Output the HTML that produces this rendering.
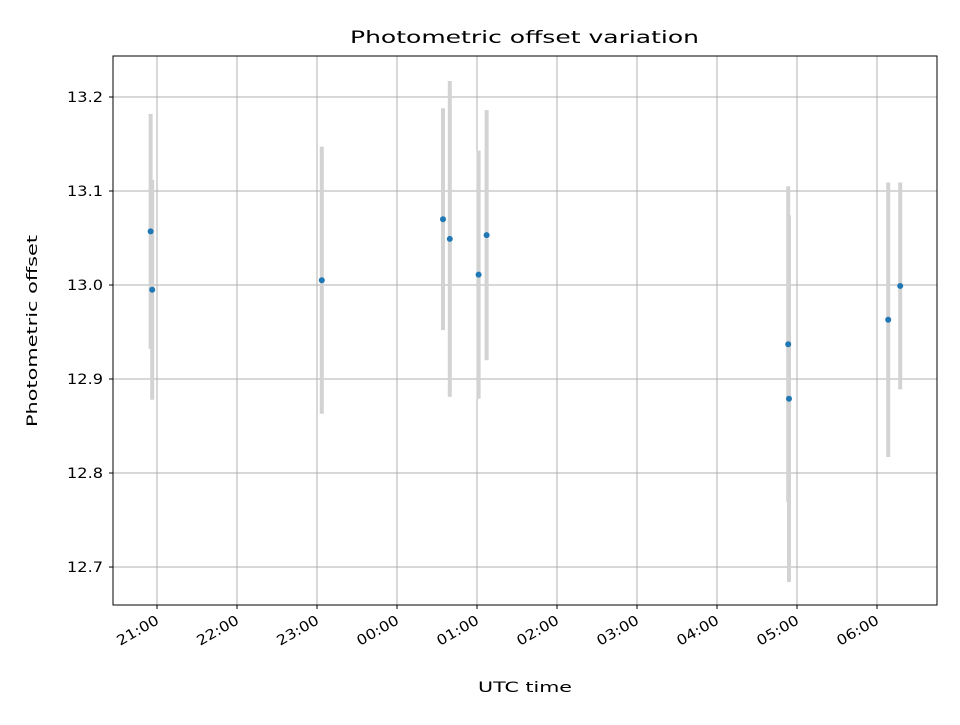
<!DOCTYPE html>
<html><head><meta charset="utf-8"><style>
body{margin:0;background:#fff;}
svg text{font-family:"DejaVu Sans","Liberation Sans",sans-serif;}
</style></head><body>
<svg id="chart" width="960" height="720" xmlns="http://www.w3.org/2000/svg">
<rect width="960" height="720" fill="#fff"/>
<text x="350" y="43" style="font-size:17px" textLength="349" lengthAdjust="spacingAndGlyphs">Photometric offset variation</text>
<g id="grid"></g>
<g id="bars"></g>
<g id="pts"></g>
<rect x="113" y="56" width="824" height="549" fill="none" stroke="#000" stroke-width="1"/>
<g id="axes"></g>
<text x="478" y="692" style="font-size:14px" textLength="94" lengthAdjust="spacingAndGlyphs">UTC time</text>
<text transform="translate(37,427) rotate(-90)" style="font-size:14px" textLength="192" lengthAdjust="spacingAndGlyphs">Photometric offset</text>
</svg>
<script>
// times in hours (values >24 are after midnight)
const times = [20.92, 20.94, 23.06, 24.575, 24.66, 25.02, 25.12, 28.89, 28.90, 30.14, 30.29];
const offsets = [13.057, 12.995, 13.005, 13.070, 13.049, 13.011, 13.053, 12.937, 12.879, 12.963, 12.999];
const errors = [0.125, 0.117, 0.142, 0.118, 0.168, 0.132, 0.133, 0.168, 0.195, 0.146, 0.110];
const xTicks = [21,22,23,24,25,26,27,28,29,30];
const xTickLabels = ["21:00","22:00","23:00","00:00","01:00","02:00","03:00","04:00","05:00","06:00"];
const yTicks = [12.7,12.8,12.9,13.0,13.1,13.2];
const yTickLabels = ["12.7","12.8","12.9","13.0","13.1","13.2"];

const L=113,R=937,T=56,B=605;
const xMin=20.45,xMax=30.75,yMin=12.6596,yMax=13.2436;
const xs=v=>L+(v-xMin)/(xMax-xMin)*(R-L);
const ys=v=>B-(v-yMin)/(yMax-yMin)*(B-T);
const NS="http://www.w3.org/2000/svg";
function mk(tag,attrs,parent){const e=document.createElementNS(NS,tag);for(const k in attrs)e.setAttribute(k,attrs[k]);parent.appendChild(e);return e;}
const grid=document.getElementById('grid'),axes=document.getElementById('axes'),bars=document.getElementById('bars'),pts=document.getElementById('pts');
xTicks.forEach((t,i)=>{
  const x=xs(t);
  const g=mk('line',{x1:x,x2:x,y1:T,y2:B,stroke:'#b0b0b0','stroke-width':1},grid);
  
  
  const tk=mk('line',{x1:x,x2:x,y1:B,y2:B+4,stroke:'#000'},axes);
  
  
  const tx=mk('text',{style:'font-size:14px','text-anchor':'end',textLength:46,lengthAdjust:'spacingAndGlyphs',transform:`translate(${x+3},${B+18}) rotate(-30)`},axes);
  tx.textContent=xTickLabels[i];
  
  
});
yTicks.forEach((v,i)=>{
  const y=ys(v);
  const g=mk('line',{x1:L,x2:R,y1:y,y2:y,stroke:'#b0b0b0','stroke-width':1},grid);
  
  
  const tk=mk('line',{x1:L-4,x2:L,y1:y,y2:y,stroke:'#000'},axes);
  
  
  const tx=mk('text',{x:L-46,y:y+5,style:'font-size:14px',textLength:36,lengthAdjust:'spacingAndGlyphs'},axes);
  tx.textContent=yTickLabels[i];
  
  
});
times.forEach((t,i)=>{
  const x=xs(t);
  const b=mk('line',{x1:x,x2:x,y1:ys(offsets[i]+errors[i]),y2:ys(offsets[i]-errors[i]),stroke:'#d3d3d3','stroke-width':4},bars);
  
  
  const c=mk('circle',{cx:x,cy:ys(offsets[i]),r:3,fill:'#1f77b4'},pts);
  
  
});
</script>
</body></html>
